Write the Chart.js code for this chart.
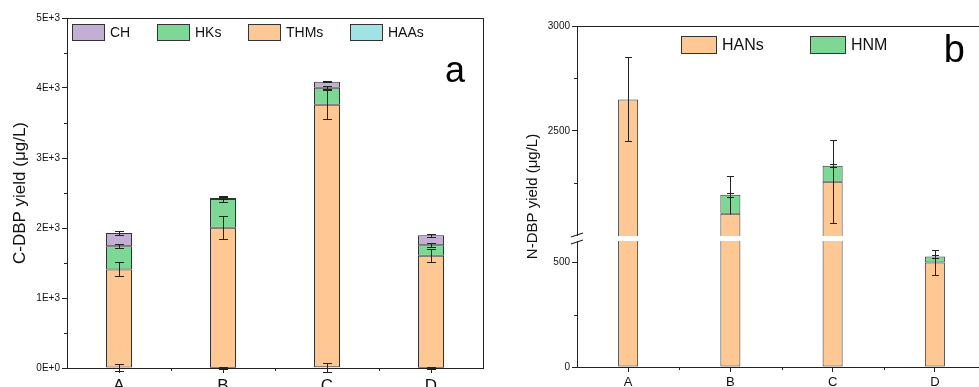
<!DOCTYPE html>
<html>
<head>
<meta charset="utf-8">
<script src="https://cdn.jsdelivr.net/npm/chart.js@4.4.1/dist/chart.umd.min.js"></script>
<style>
  html, body { margin: 0; padding: 0; background: #fff; width: 979px; height: 387px; overflow: hidden; }
  #cChart { position: absolute; left: 0; top: 0; }
  #nChart { position: absolute; left: 490px; top: 0; }
</style>
</head>
<body>
<canvas id="cChart" width="490" height="387"></canvas>
<canvas id="nChart" width="510" height="387"></canvas>
<script>
const sites = ['A', 'B', 'C', 'D'];

// panel a: C-DBP (µg/L), stacked bottom -> top
const haas = [8, 5, 10, 5];
const haasErr = [50, 15, 65, 15];
const thms = [1400, 2000, 3750, 1600];
const thmsErr = [100, 160, 205, 95];
const hks = [333, 410, 245, 150];
const hksErr = [30, 40, 20, 25];
const ch = [186, 15, 86, 143];
const chErr = [30, 20, 10, 20];
const cTickValues = [0, 1000, 2000, 3000, 4000, 5000];
const cTickLabels = ['0E+0', '1E+3', '2E+3', '3E+3', '4E+3', '5E+3'];
const cMinorTicks = [500, 1500, 2500, 3500, 4500];

// panel b: N-DBP (µg/L)
const hans = [2650, 2106, 2258, 498];
const hansErrUp = [200, 182, 198, 60];
const hansErrDown = [200, 0, 198, 60];
const hnm = [0, 90, 77, 28];
const hnmErr = [0, 10, 8, 6];
const nTickValues = [0, 500, 2500, 3000];
const nTickLabels = ['0', '500', '2500', '3000'];
const nMinorTicks = [250, 2250, 2750];
const nBreak = { from: 600, to: 2000, gap: 24 };
const nAxisMax = 3000;

const ORANGE = '#fec894', GREEN = '#7dd896', PURPLE = '#c3afd6', CYAN = '#a0e2e6';
const INK = '#222';

Chart.defaults.font.family = "'Liberation Sans', Arial, sans-serif";
Chart.defaults.color = '#111';
Chart.defaults.animation = false;
Chart.defaults.events = [];
Chart.defaults.plugins.legend.display = false;
Chart.defaults.plugins.tooltip.enabled = false;

// linear scale with a squeezed break between brk.from and brk.to
class BrokenScale extends Chart.LinearScale {
  squash(v) {
    const b = this.options.brk;
    if (v <= b.from) return v;
    if (v >= b.to) return v - (b.to - b.from) + b.gap;
    return b.from + b.gap * (v - b.from) / (b.to - b.from);
  }
  getPixelForValue(v) {
    if (v === null || v === undefined) return NaN;
    return this.getPixelForDecimal((this.squash(v) - this._startValue) / this._valueRange);
  }
}
BrokenScale.id = 'broken';
BrokenScale.defaults = {};
Chart.register(BrokenScale);

const frame = {
  id: 'frame',
  beforeDatasetsDraw(chart) {
    const { ctx, chartArea: a } = chart;
    ctx.save();
    ctx.strokeStyle = INK;
    ctx.lineWidth = 1;
    ctx.strokeRect(Math.round(a.left) + 0.5, Math.round(a.top) + 0.5, Math.round(a.right - a.left), Math.round(a.bottom - a.top));
    ctx.restore();
  }
};

const minorTicks = {
  id: 'minorTicks',
  afterDraw(chart, args, opts) {
    const { ctx, chartArea: a, scales: { x, y } } = chart;
    ctx.save();
    ctx.strokeStyle = INK;
    ctx.lineWidth = 1;
    ctx.beginPath();
    opts.values.forEach(v => {
      const p = Math.round(y.getPixelForValue(v)) + 0.5;
      ctx.moveTo(a.left - 3, p);
      ctx.lineTo(a.left, p);
    });
    for (let i = 0; i < chart.data.labels.length - 1; i++) {
      const p = Math.round(x.getPixelForValue(i + 0.5)) + 0.5;
      ctx.moveTo(p, a.bottom);
      ctx.lineTo(p, a.bottom + 3);
    }
    ctx.stroke();
    ctx.restore();
  }
};

const errorBars = {
  id: 'errorBars',
  afterDatasetsDraw(chart, args, opts) {
    const { ctx, scales: { y } } = chart;
    const sums = chart.data.labels.map(() => 0);
    ctx.save();
    ctx.strokeStyle = INK;
    ctx.lineWidth = 1;
    chart.data.datasets.forEach((ds, di) => {
      const meta = chart.getDatasetMeta(di);
      ds.data.forEach((v, i) => {
        sums[i] += v;
        const up = ds.errUp[i], down = ds.errDown[i];
        if (!up && !down) return;
        const x = Math.round(meta.data[i].x) + 0.5;
        const y1 = Math.round(y.getPixelForValue(sums[i] + up)) + 0.5;
        const y2 = Math.round(y.getPixelForValue(sums[i] - down)) + 0.5;
        const yc = y.getPixelForValue(sums[i]);
        ctx.beginPath();
        ctx.moveTo(x, y1);
        ctx.lineTo(x, y2);
        if (up) { ctx.moveTo(x - opts.cap, y1); ctx.lineTo(x + opts.cap, y1); }
        if (down) { ctx.moveTo(x - opts.cap, y2); ctx.lineTo(x + opts.cap, y2); }
        ctx.stroke();
      });
    });
    ctx.restore();
  }
};

const axisBreak = {
  id: 'axisBreak',
  afterDatasetsDraw(chart) {
    const { ctx, chartArea: a, scales: { y } } = chart;
    const b = y.options.brk;
    const y1 = y.getPixelForValue(b.to), y2 = y.getPixelForValue(b.from);
    ctx.save();
    ctx.fillStyle = '#fff';
    ctx.fillRect(a.left - 1, y1, a.right - a.left + 2, y2 - y1);
    ctx.strokeStyle = INK;
    ctx.lineWidth = 1.2;
    ctx.beginPath();
    [y1 - 1, y2 + 1].forEach(yy => {
      ctx.moveTo(a.left - 6, yy + 2);
      ctx.lineTo(a.left + 6, yy - 2);
    });
    ctx.stroke();
    ctx.restore();
  }
};

const boxLegend = {
  id: 'boxLegend',
  afterDraw(chart, args, opts) {
    const { ctx, chartArea: a } = chart;
    ctx.save();
    ctx.font = opts.font;
    ctx.textBaseline = 'middle';
    ctx.lineWidth = 1;
    let x = Math.round(a.left + opts.x);
    const top = Math.round(a.top + opts.y);
    opts.order.forEach(di => {
      const ds = chart.data.datasets[di];
      ctx.fillStyle = ds.backgroundColor;
      ctx.fillRect(x, top, opts.boxW, opts.boxH);
      ctx.strokeStyle = '#333';
      ctx.strokeRect(x + 0.5, top + 0.5, opts.boxW - 1, opts.boxH - 1);
      ctx.fillStyle = '#111';
      ctx.fillText(ds.label, x + opts.boxW + opts.textGap, top + opts.boxH / 2 + 1);
      x += Math.round(opts.boxW + opts.textGap + ctx.measureText(ds.label).width + opts.gap);
    });
    ctx.restore();
  }
};

const panelTag = {
  id: 'panelTag',
  afterDraw(chart, args, opts) {
    const { ctx, chartArea: a } = chart;
    ctx.save();
    ctx.font = opts.font;
    ctx.fillStyle = '#000';
    ctx.textAlign = 'right';
    ctx.textBaseline = 'alphabetic';
    ctx.fillText(opts.text, a.right - opts.dx, a.top + opts.dy);
    ctx.restore();
  }
};

function barSet(label, data, errUp, errDown, color, pct) {
  return {
    label, data, errUp, errDown,
    backgroundColor: color,
    borderColor: '#333',
    borderWidth: 1,
    borderSkipped: false,
    categoryPercentage: 1,
    barPercentage: pct
  };
}

new Chart(document.getElementById('cChart'), {
  type: 'bar',
  data: {
    labels: sites,
    datasets: [
      barSet('HAAs', haas, haasErr, haasErr, CYAN, 0.25),
      barSet('THMs', thms, thmsErr, thmsErr, ORANGE, 0.25),
      barSet('HKs', hks, hksErr, hksErr, GREEN, 0.25),
      barSet('CH', ch, chErr, chErr, PURPLE, 0.25)
    ]
  },
  options: {
    responsive: false,
    layout: { padding: { left: 0, top: 18, right: 7, bottom: 0 } },
    scales: {
      x: {
        stacked: true,
        offset: true,
        grid: { offset: false, drawOnChartArea: false, tickLength: 5, color: INK },
        border: { color: INK },
        ticks: { font: { size: 17 }, padding: 3, color: '#111' },
        afterFit: s => { s.height = 19; }
      },
      y: {
        stacked: true,
        min: 0,
        max: 5000,
        afterBuildTicks: s => { s.ticks = cTickValues.map(v => ({ value: v })); },
        ticks: { callback: (v, i) => cTickLabels[i], font: { size: 10 }, padding: 2, color: '#111' },
        grid: { drawOnChartArea: false, tickLength: 5, color: INK },
        border: { color: INK },
        title: { display: true, text: 'C-DBP yield (μg/L)', font: { size: 17 }, color: '#111', padding: { top: 10, bottom: 0 } },
        afterFit: s => { s.width = 67; }
      }
    },
    plugins: {
      minorTicks: { values: cMinorTicks },
      errorBars: { cap: 4.5 },
      boxLegend: { x: 5, y: 6, boxW: 33, boxH: 17, textGap: 5, gap: 27, order: [3, 2, 1, 0], font: "14px 'Liberation Sans', Arial, sans-serif" },
      panelTag: { text: 'a', dx: 18, dy: 64, font: "36px 'Liberation Sans', Arial, sans-serif" }
    }
  },
  plugins: [frame, minorTicks, errorBars, boxLegend, panelTag]
});

new Chart(document.getElementById('nChart'), {
  type: 'bar',
  data: {
    labels: sites,
    datasets: [
      barSet('HANs', hans, hansErrUp, hansErrDown, ORANGE, 0.196),
      barSet('HNM', hnm, hnmErr, hnmErr, GREEN, 0.196)
    ]
  },
  options: {
    responsive: false,
    layout: { padding: { left: 0, top: 26, right: 14, bottom: 0 } },
    scales: {
      x: {
        stacked: true,
        offset: true,
        grid: { offset: false, drawOnChartArea: false, tickLength: 5, color: INK },
        border: { color: INK },
        ticks: { font: { size: 13 }, padding: 3, color: '#111' },
        afterFit: s => { s.height = 20; }
      },
      y: {
        type: 'broken',
        brk: nBreak,
        stacked: true,
        min: 0,
        max: nBreak.from + nBreak.gap + (nAxisMax - nBreak.to),
        afterBuildTicks: s => { s.ticks = nTickValues.map(v => ({ value: v })); },
        ticks: { callback: (v, i) => nTickLabels[i], font: { size: 10 }, padding: 2, color: '#111' },
        grid: { drawOnChartArea: false, tickLength: 5, color: INK },
        border: { color: INK },
        title: { display: true, text: 'N-DBP yield (μg/L)', font: { size: 15 }, color: '#111', padding: { top: 34, bottom: 0 } },
        afterFit: s => { s.width = 87; }
      }
    },
    plugins: {
      minorTicks: { values: nMinorTicks },
      errorBars: { cap: 3.5 },
      boxLegend: { x: 104, y: 10, boxW: 36, boxH: 18, textGap: 5, gap: 46, order: [0, 1], font: "16px 'Liberation Sans', Arial, sans-serif" },
      panelTag: { text: 'b', dx: 21, dy: 36, font: "38px 'Liberation Sans', Arial, sans-serif" }
    }
  },
  plugins: [frame, minorTicks, errorBars, axisBreak, boxLegend, panelTag]
});
</script>
</body>
</html>
